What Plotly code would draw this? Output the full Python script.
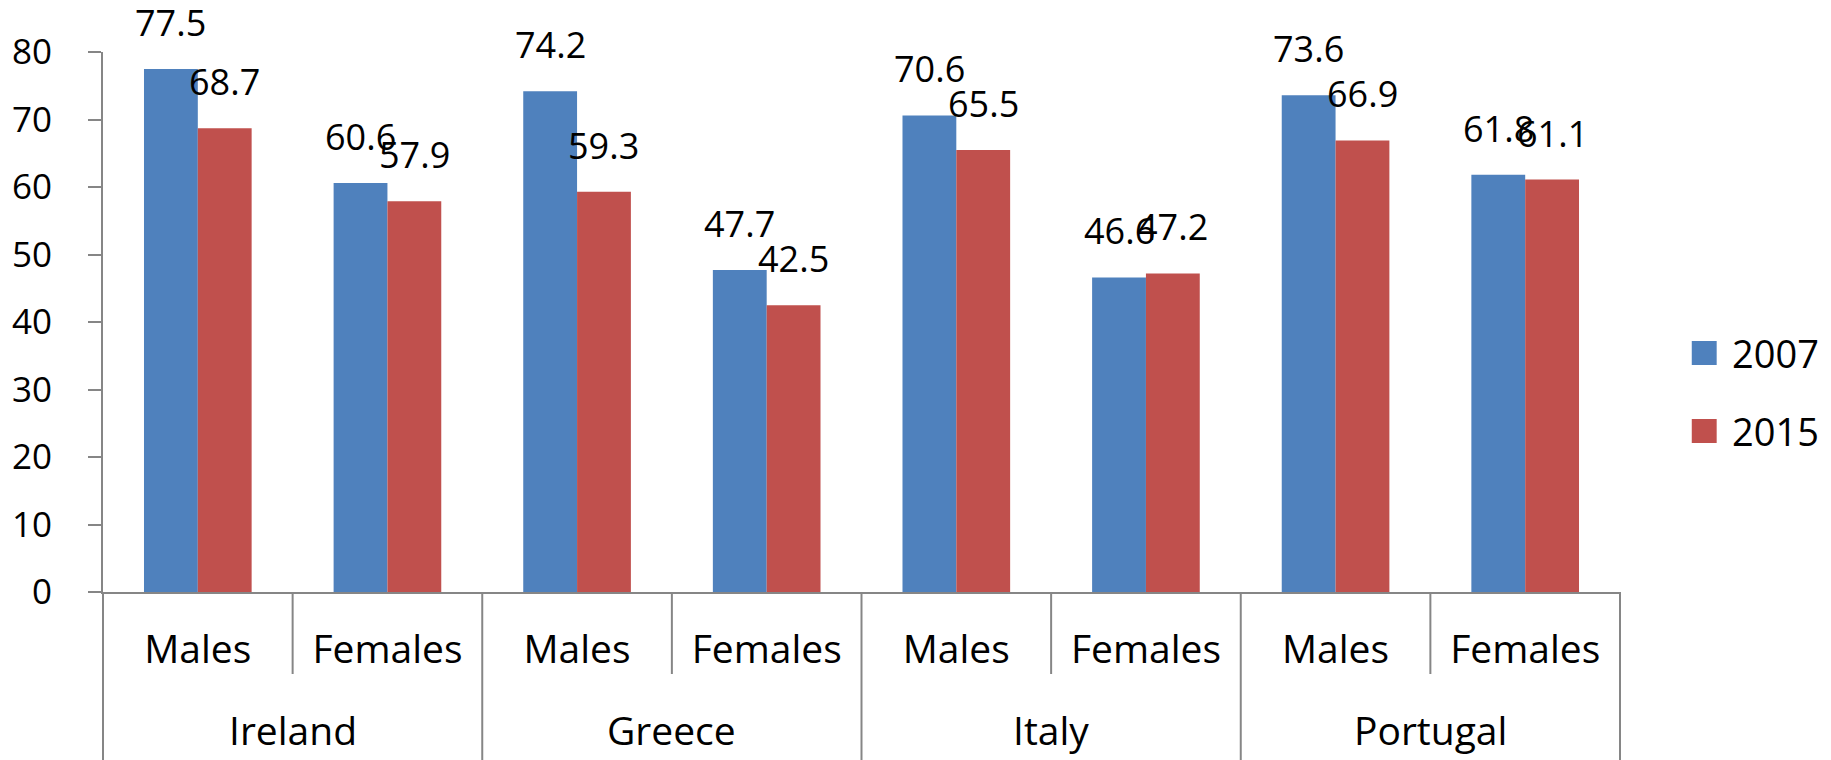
import plotly.graph_objects as go

countries = ["Ireland", "Greece", "Italy", "Portugal"]
sexes = ["Males", "Females"]
years = ["2007", "2015"]
values_2007 = [77.5, 60.6, 74.2, 47.7, 70.6, 46.6, 73.6, 61.8]
values_2015 = [68.7, 57.9, 59.3, 42.5, 65.5, 47.2, 66.9, 61.1]
colors = ["#4F81BD", "#C0504D"]
y_ticks = [0, 10, 20, 30, 40, 50, 60, 70, 80]

FONT = "Open Sans"
GRAY = "#868686"
W, H = 1831, 760
ML, MR, MT, MB = 98, 211, 52, 168
PW, PH = W - ML - MR, H - MT - MB

def px_x(p):
    return (p - ML) / PW

def px_y(p):
    return (H - MB - p) / PH

n = len(countries) * len(sexes)
xs = list(range(n))
bargap = 0.4323
bw = (1 - bargap) / 2

fig = go.Figure()
series = [values_2007, values_2015]
for k, (yr, vals) in enumerate(zip(years, series)):
    fig.add_trace(go.Bar(x=xs, y=vals, name=yr, marker=dict(color=colors[k], line=dict(width=0)),
                         showlegend=False))

annotations = []
shapes = []
# data labels
for k, vals in enumerate(series):
    off = -bw / 2 if k == 0 else bw / 2
    for i, v in enumerate(vals):
        annotations.append(dict(x=xs[i] + off, y=v, xref="x", yref="y", text=f"{v:.1f}",
                                showarrow=False, yanchor="bottom", xanchor="center", yshift=20,
                                font=dict(family=FONT, size=36, color="black")))
# country labels
for c, name in enumerate(countries):
    annotations.append(dict(x=c * 2 + 0.5, y=px_y(729), xref="x", yref="paper", text=name,
                            showarrow=False, yanchor="middle", xanchor="center",
                            font=dict(family=FONT, size=39, color="black")))
# dividers
for c in range(len(countries) + 1):
    xp = c / len(countries)
    shapes.append(dict(type="line", xref="paper", yref="paper", x0=xp, x1=xp, y0=0, y1=px_y(H),
                       line=dict(color=GRAY, width=2)))
for c in range(len(countries)):
    xp = (2 * c + 1) / n
    shapes.append(dict(type="line", xref="paper", yref="paper", x0=xp, x1=xp, y0=0, y1=px_y(674),
                       line=dict(color=GRAY, width=2)))
# manual legend
leg_tops = [341, 419]
for k, yr in enumerate(years):
    top = leg_tops[k]
    shapes.append(dict(type="rect", xref="paper", yref="paper", x0=px_x(1692), x1=px_x(1717),
                       y0=px_y(top + 24), y1=px_y(top), fillcolor=colors[k], line=dict(width=0)))
    annotations.append(dict(x=px_x(1730), y=px_y(top + 12), xref="paper", yref="paper", text=yr,
                            showarrow=False, xanchor="left", yanchor="middle",
                            font=dict(family=FONT, size=38, color="black")))

fig.update_layout(
    width=W, height=H,
    margin=dict(l=ML, r=MR, t=MT, b=MB, pad=0),
    paper_bgcolor="white", plot_bgcolor="white",
    barmode="group", bargap=bargap, bargroupgap=0,
    font=dict(family=FONT, color="black"),
    annotations=annotations, shapes=shapes,
    xaxis=dict(range=[-0.5, n - 0.5], tickvals=xs, ticktext=sexes * len(countries),
               showline=True, linecolor=GRAY, linewidth=2, ticks="", showgrid=False,
               zeroline=False, tickfont=dict(family=FONT, size=39, color="black"),
               ticklabelstandoff=22),
    yaxis=dict(range=[0, 80], tickvals=y_ticks, showline=True, linecolor=GRAY, linewidth=2,
               ticks="outside", ticklen=13, tickwidth=2, tickcolor=GRAY, showgrid=False,
               zeroline=False, tickfont=dict(family=FONT, size=35, color="black"),
               ticklabelstandoff=29),
)

fig.write_html("out.html")
